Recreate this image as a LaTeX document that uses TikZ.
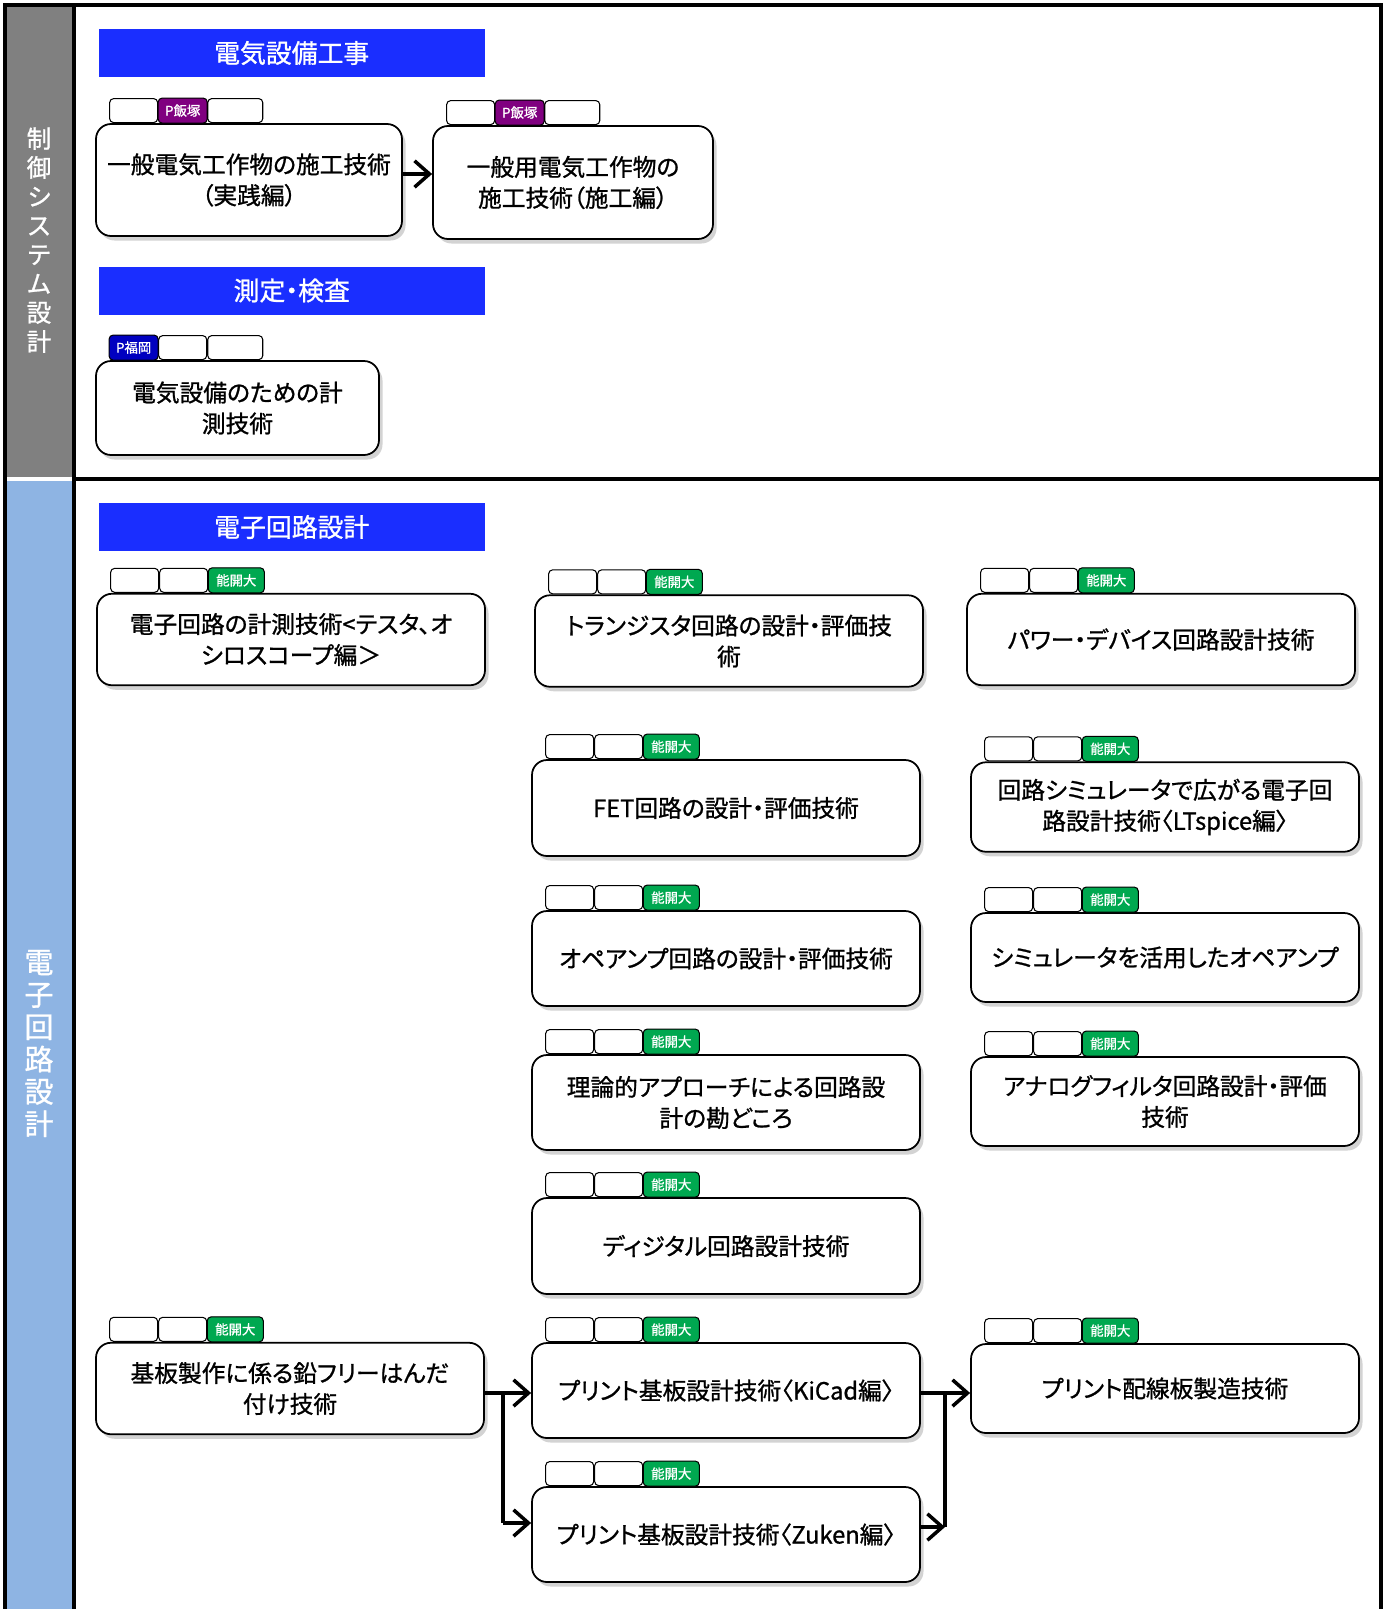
\documentclass[tikz,border=0pt]{standalone}
\usepackage{fontspec}
\setmainfont{Noto Sans CJK JP}[RawFeature={+palt}, FakeBold=1]
\usetikzlibrary{positioning,shadows,arrows.meta}

\definecolor{headblue}{RGB}{26,46,255}
\definecolor{sidegray}{RGB}{128,128,128}
\definecolor{sideblue}{RGB}{142,180,227}
\definecolor{iizuka}{RGB}{128,0,128}
\definecolor{fukuoka}{RGB}{0,0,192}
\definecolor{nokaidai}{RGB}{0,168,80}

% three tag slots above a course box: #2 filled slot, #3 colour, #4 label
\newcommand{\coursetags}[4]{
  \node[tagslot, anchor=south west] (#1-t1) at ([xshift=0.28cm]#1.north west) {};
  \node[tagslot, right=0pt of #1-t1] (#1-t2) {};
  \node[tagslot, right=0pt of #1-t2, minimum width=1.1cm] (#1-t3) {};
  \draw[draw, rounded corners=0.08cm, line width=0.6pt, fill=#3] (#1-t#2.south west) rectangle (#1-t#2.north east);
  \node[tagtext] at (#1-t#2) {#4};
}

\begin{document}
\begin{tikzpicture}[
    course/.style={draw, line width=1pt, rounded corners=0.3cm, fill=white, align=center,
      inner sep=0pt, minimum width=7.76cm, minimum height=1.83cm,
      font=\fontsize{13.5}{17.6}\selectfont,
      drop shadow={shadow xshift=0.07cm, shadow yshift=-0.09cm, opacity=0.35}},
    header/.style={fill=headblue, text=white, minimum width=7.73cm, minimum height=0.96cm,
      inner sep=0pt, font=\fontsize{14.7}{17}\selectfont},
    sidelabel/.style={text=white, align=center, inner sep=0pt},
    tagslot/.style={draw, rounded corners=0.08cm, fill=white, line width=0.6pt,
      minimum width=0.96cm, minimum height=0.48cm, inner sep=0pt},
    tagtext/.style={text=white, inner sep=0pt, font=\fontsize{7.6}{8}\selectfont},
    flow/.style={line width=2pt, -{Straight Barb[length=8.5pt, width=15pt]}},
    trunk/.style={line width=2pt}
  ]
  \useasboundingbox (0,0) rectangle (27.74,-32.18);

  % side bands and frame
  \fill[sidegray] (0.1,-0.1) rectangle (1.48,-9.54);
  \fill[sideblue] (0.1,-9.62) rectangle (1.48,-32.4);
  \draw[line width=2pt] (0.1,-0.1) rectangle (27.62,-32.4);
  \draw[line width=2pt] (1.48,-0.1) -- (1.48,-32.4);
  \draw[line width=2pt] (1.48,-9.58) -- (27.62,-9.58);

  \node[sidelabel, font=\fontsize{14}{16.5}\selectfont] (seigyo) at (0.78,-4.8) {制\\御\\シ\\ス\\テ\\ム\\設\\計};
  \node[sidelabel, font=\fontsize{16.5}{18.4}\selectfont] (denshi) at (0.78,-20.87) {電\\子\\回\\路\\設\\計};

  % headers
  \node[header] (hd-denki) at (5.835,-1.06) {電気設備工事};
  \node[header] (hd-sokutei) at (5.835,-5.81) {測定・検査};
  \node[header] (hd-kairo) at (5.835,-10.54) {電子回路設計};

  % courses
  \node[course, minimum width=6.12cm, minimum height=2.24cm] (ippan) at (4.98,-3.6) {一般電気工作物の施工技術\\（実践編）};
  \node[course, minimum width=5.6cm, minimum height=2.26cm] (ippanyo) at (11.46,-3.65) {一般用電気工作物の\\施工技術（施工編）};
  \node[course, minimum width=5.66cm, minimum height=1.88cm] (keisoku) at (4.75,-8.16) {電気設備のための計\\測技術};

  \node[course] (tester) at (5.82,-12.79) {電子回路の計測技術<テスタ、オ\\シロスコープ編＞};
  \node[course] (tr) at (14.58,-12.82) {トランジスタ回路の設計・評価技\\術};
  \node[course] (power) at (23.22,-12.79) {パワー・デバイス回路設計技術};
  \node[course, minimum height=1.92cm] (fet) at (14.52,-16.16) {FET回路の設計・評価技術};
  \node[course, minimum height=1.79cm] (ltspice) at (23.3,-16.14) {回路シミュレータで広がる電子回\\路設計技術〈LTspice編〉};
  \node[course, minimum height=1.9cm] (opamp) at (14.52,-19.17) {オペアンプ回路の設計・評価技術};
  \node[course, minimum height=1.78cm] (simopamp) at (23.3,-19.15) {シミュレータを活用したオペアンプ};
  \node[course, minimum height=1.9cm] (riron) at (14.52,-22.05) {理論的アプローチによる回路設\\計の勘どころ};
  \node[course, minimum height=1.78cm] (filter) at (23.3,-22.03) {アナログフィルタ回路設計・評価\\技術};
  \node[course, minimum height=1.92cm] (digital) at (14.52,-24.92) {ディジタル回路設計技術};
  \node[course] (kiban) at (5.8,-27.77) {基板製作に係る鉛フリーはんだ\\付け技術};
  \node[course, minimum height=1.9cm] (kicad) at (14.52,-27.81) {プリント基板設計技術〈KiCad編〉};
  \node[course, minimum height=1.9cm] (zuken) at (14.52,-30.69) {プリント基板設計技術〈Zuken編〉};
  \node[course, minimum height=1.78cm] (haisen) at (23.3,-27.77) {プリント配線板製造技術};

  % tags
  \coursetags{ippan}{2}{iizuka}{P飯塚}
  \coursetags{ippanyo}{2}{iizuka}{P飯塚}
  \coursetags{keisoku}{1}{fukuoka}{P福岡}
  \coursetags{tester}{3}{nokaidai}{能開大}
  \coursetags{tr}{3}{nokaidai}{能開大}
  \coursetags{power}{3}{nokaidai}{能開大}
  \coursetags{fet}{3}{nokaidai}{能開大}
  \coursetags{ltspice}{3}{nokaidai}{能開大}
  \coursetags{opamp}{3}{nokaidai}{能開大}
  \coursetags{simopamp}{3}{nokaidai}{能開大}
  \coursetags{riron}{3}{nokaidai}{能開大}
  \coursetags{filter}{3}{nokaidai}{能開大}
  \coursetags{digital}{3}{nokaidai}{能開大}
  \coursetags{kiban}{3}{nokaidai}{能開大}
  \coursetags{kicad}{3}{nokaidai}{能開大}
  \coursetags{zuken}{3}{nokaidai}{能開大}
  \coursetags{haisen}{3}{nokaidai}{能開大}

  % connectors
  \draw[flow] ([yshift=0.12cm]ippan.east) -- ([yshift=0.12cm]ippan.east -| ippanyo.west);

  \coordinate (split) at (10.06,-27.86);
  \coordinate (splitlow) at (10.06,-30.46);
  \coordinate (join) at (18.9,-27.86);
  \coordinate (joinlow) at (18.9,-30.54);
  \draw[flow] (kiban.east |- split) -- (kicad.west |- split);
  \draw[trunk] (split) -- (splitlow);
  \draw[flow] (splitlow) -- (zuken.west |- splitlow);
  \draw[flow] (kicad.east |- join) -- (haisen.west |- join);
  \draw[trunk] (join) -- (joinlow);
  \draw[flow] (zuken.east |- joinlow) -- (joinlow);
\end{tikzpicture}
\end{document}
